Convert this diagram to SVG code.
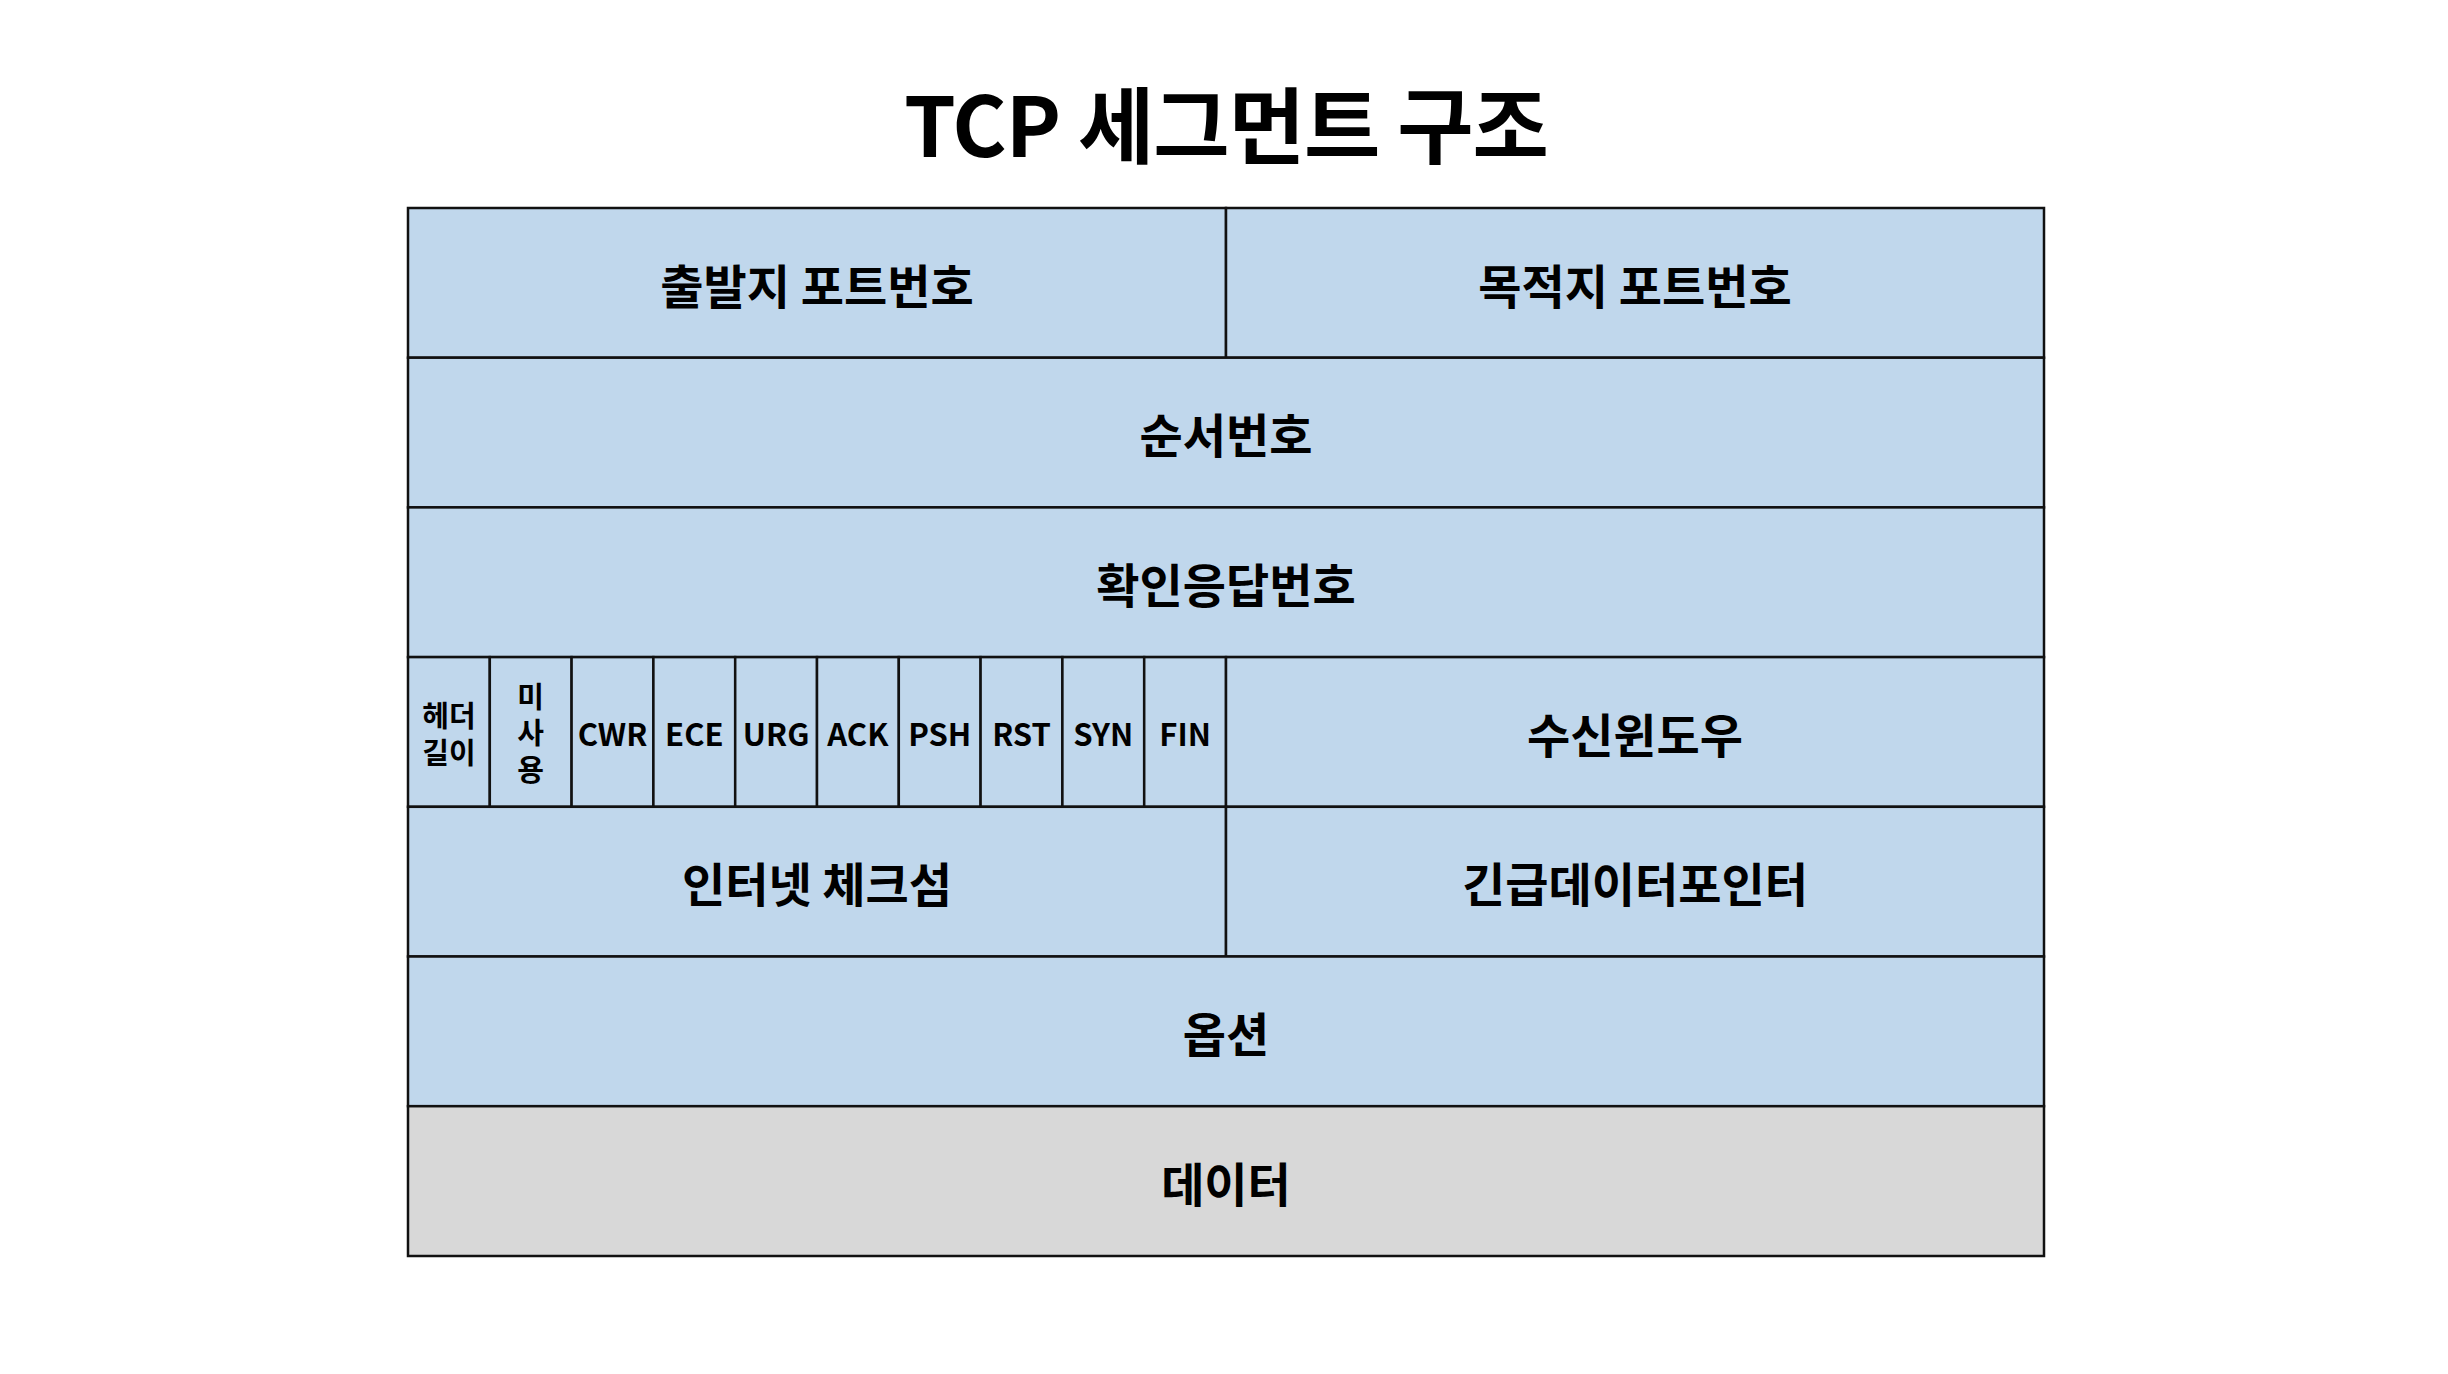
<svg xmlns="http://www.w3.org/2000/svg" width="2448" height="1374" viewBox="0 0 2448 1374">
<style>
.c{fill:#C0D7EC;stroke:#111;stroke-width:2.5}
.g{fill:#D8D8D8;stroke:#111;stroke-width:2.5}
text{font-family:"Noto Sans CJK KR","Noto Sans",sans-serif;font-weight:bold;fill:#000;text-anchor:middle;dominant-baseline:central}
.l{font-size:47px}
.f{font-size:31px}
.s{font-size:29px}
.t{font-size:83px;letter-spacing:-1px;dominant-baseline:alphabetic}
</style>
<rect width="2448" height="1374" fill="#fff"/>
<text class="t" x="1226" y="157">TCP 세그먼트 구조</text>
<g id="src-port"><rect class="c" x="408" y="208" width="818" height="149.7"/><text class="l" x="817" y="283">출발지 포트번호</text></g>
<g id="dst-port"><rect class="c" x="1226" y="208" width="818" height="149.7"/><text class="l" x="1635" y="283">목적지 포트번호</text></g>
<g id="seq"><rect class="c" x="408" y="357.7" width="1636" height="149.7"/><text class="l" x="1226" y="432.5">순서번호</text></g>
<g id="ack-num"><rect class="c" x="408" y="507.4" width="1636" height="149.7"/><text class="l" x="1226" y="582.2">확인응답번호</text></g>
<g id="hlen"><rect class="c" x="408" y="657.1" width="81.8" height="149.7"/><text class="s" x="449" y="714">헤더</text><text class="s" x="449" y="751">길이</text></g>
<g id="unused"><rect class="c" x="489.8" y="657.1" width="81.8" height="149.7"/><text class="s" x="530.7" y="695">미</text><text class="s" x="530.7" y="731">사</text><text class="s" x="530.7" y="768">용</text></g>
<g id="cwr"><rect class="c" x="571.6" y="657.1" width="81.8" height="149.7"/><text class="f" x="612.5" y="732">CWR</text></g>
<g id="ece"><rect class="c" x="653.4" y="657.1" width="81.8" height="149.7"/><text class="f" x="694.3" y="732">ECE</text></g>
<g id="urg"><rect class="c" x="735.2" y="657.1" width="81.8" height="149.7"/><text class="f" x="776.1" y="732">URG</text></g>
<g id="ack"><rect class="c" x="817" y="657.1" width="81.8" height="149.7"/><text class="f" x="857.9" y="732">ACK</text></g>
<g id="psh"><rect class="c" x="898.8" y="657.1" width="81.8" height="149.7"/><text class="f" x="939.7" y="732">PSH</text></g>
<g id="rst"><rect class="c" x="980.6" y="657.1" width="81.8" height="149.7"/><text class="f" x="1021.5" y="732">RST</text></g>
<g id="syn"><rect class="c" x="1062.4" y="657.1" width="81.8" height="149.7"/><text class="f" x="1103.3" y="732">SYN</text></g>
<g id="fin"><rect class="c" x="1144.2" y="657.1" width="81.8" height="149.7"/><text class="f" x="1185.1" y="732">FIN</text></g>
<g id="window"><rect class="c" x="1226" y="657.1" width="818" height="149.7"/><text class="l" x="1635" y="732">수신윈도우</text></g>
<g id="checksum"><rect class="c" x="408" y="806.8" width="818" height="149.7"/><text class="l" x="817" y="881.6">인터넷 체크섬</text></g>
<g id="urgent-ptr"><rect class="c" x="1226" y="806.8" width="818" height="149.7"/><text class="l" x="1635" y="881.6">긴급데이터포인터</text></g>
<g id="options"><rect class="c" x="408" y="956.5" width="1636" height="149.7"/><text class="l" x="1226" y="1031.3">옵션</text></g>
<g id="data"><rect class="g" x="408" y="1106.2" width="1636" height="149.8"/><text class="l" x="1226" y="1181">데이터</text></g>
<g id="connectors"></g>
</svg>
